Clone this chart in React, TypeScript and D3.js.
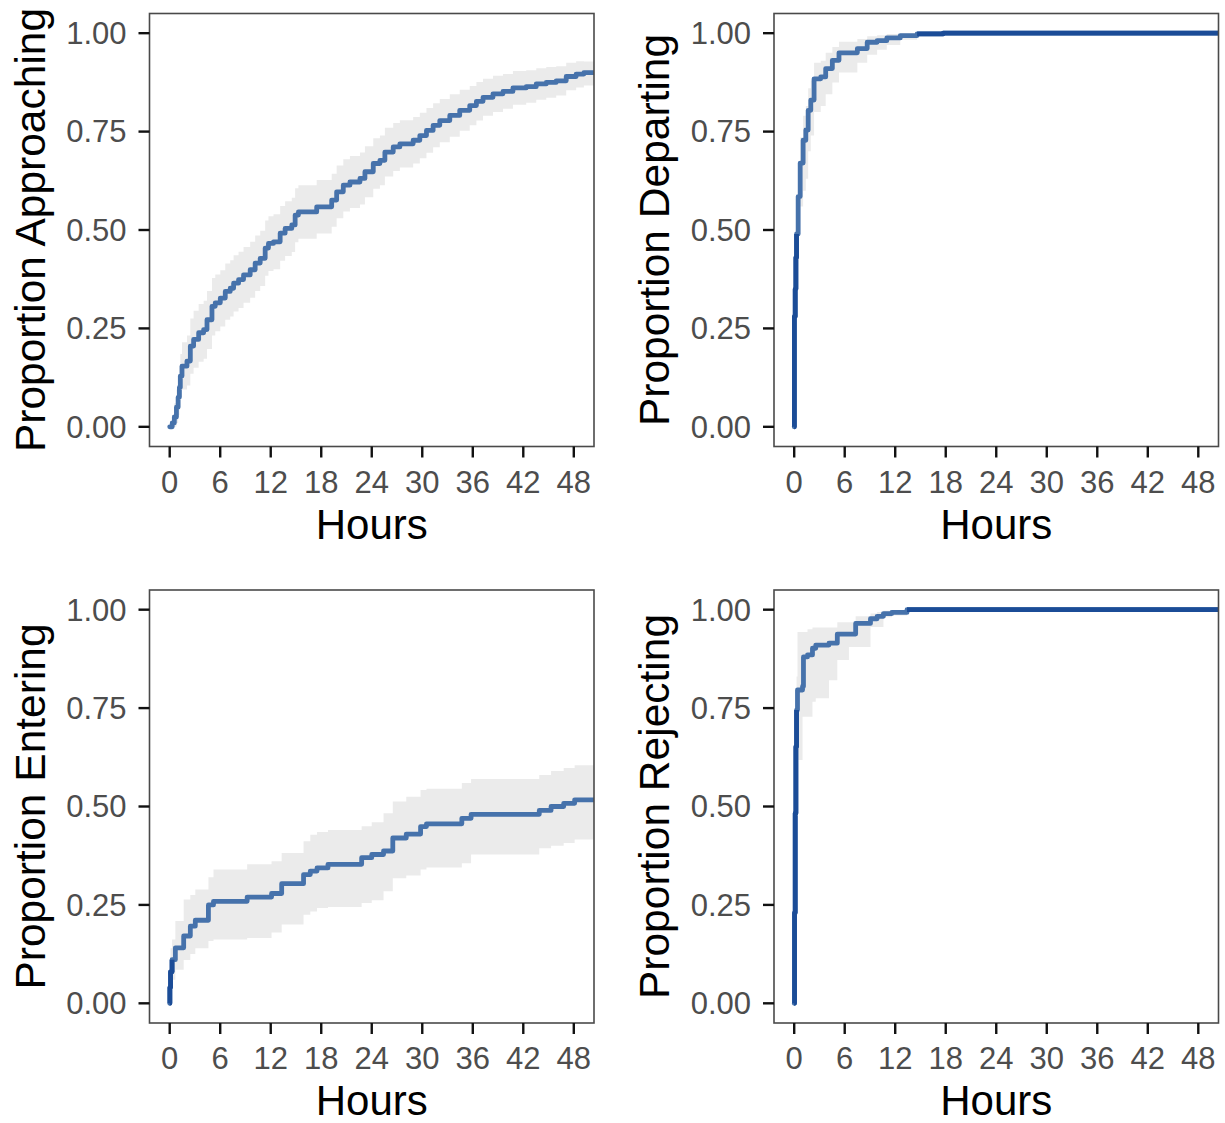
import React from "react";
import * as d3 from "d3";

// ---------- data ----------
const xTicks = [0, 6, 12, 18, 24, 30, 36, 42, 48];
const yTicks = [0, 0.25, 0.5, 0.75, 1.0];
const yTickLabels = ["0.00", "0.25", "0.50", "0.75", "1.00"];

const approachTime = [0, 0.3, 0.55, 0.8, 1.0, 1.15, 1.26, 1.46, 2.05, 2.45, 2.84, 3.44, 4.03, 4.43, 5.02, 5.41, 6.01, 6.6, 7.19, 7.59, 8.18, 8.77, 9.56, 10.15, 10.75, 11.34, 11.73, 12.33, 13.12, 13.71, 14.5, 14.9, 15.29, 17.46, 19.24, 19.83, 20.62, 21.41, 22.6, 23.19, 24.18, 24.97, 25.56, 26.55, 27.34, 28.92, 29.71, 30.5, 31.29, 32.08, 33.27, 34.45, 35.64, 36.43, 37.22, 38.4, 39.59, 40.77, 42.35, 43.54, 44.73, 45.91, 47.1, 48.28, 49.2, 50.4];
const approachEst = [0, 0.01, 0.025, 0.05, 0.075, 0.1, 0.129, 0.154, 0.167, 0.205, 0.222, 0.239, 0.247, 0.272, 0.306, 0.315, 0.327, 0.344, 0.352, 0.365, 0.374, 0.386, 0.399, 0.416, 0.428, 0.454, 0.466, 0.47, 0.492, 0.504, 0.513, 0.538, 0.546, 0.559, 0.576, 0.597, 0.614, 0.622, 0.631, 0.648, 0.669, 0.677, 0.698, 0.711, 0.719, 0.728, 0.74, 0.753, 0.766, 0.778, 0.791, 0.804, 0.816, 0.827, 0.837, 0.846, 0.852, 0.861, 0.864, 0.871, 0.875, 0.879, 0.89, 0.896, 0.9, 0.9];
const approachLower = [0, 0, 0, 0.01, 0.03, 0.05, 0.075, 0.095, 0.105, 0.135, 0.15, 0.165, 0.173, 0.198, 0.232, 0.243, 0.255, 0.272, 0.28, 0.293, 0.302, 0.315, 0.328, 0.345, 0.358, 0.384, 0.396, 0.4, 0.422, 0.434, 0.444, 0.469, 0.478, 0.491, 0.508, 0.53, 0.547, 0.556, 0.565, 0.583, 0.605, 0.614, 0.636, 0.65, 0.659, 0.669, 0.682, 0.696, 0.71, 0.723, 0.737, 0.752, 0.766, 0.778, 0.79, 0.8, 0.808, 0.818, 0.823, 0.831, 0.836, 0.842, 0.855, 0.862, 0.867, 0.867];
const approachUpper = [0, 0.03, 0.06, 0.095, 0.125, 0.155, 0.185, 0.215, 0.232, 0.275, 0.295, 0.312, 0.32, 0.345, 0.378, 0.387, 0.398, 0.415, 0.423, 0.436, 0.445, 0.457, 0.47, 0.486, 0.498, 0.524, 0.535, 0.54, 0.561, 0.573, 0.582, 0.606, 0.614, 0.627, 0.643, 0.664, 0.68, 0.688, 0.697, 0.713, 0.733, 0.74, 0.76, 0.772, 0.779, 0.787, 0.798, 0.81, 0.822, 0.833, 0.845, 0.856, 0.866, 0.876, 0.884, 0.892, 0.896, 0.904, 0.906, 0.911, 0.914, 0.916, 0.925, 0.929, 0.928, 0.928];

const departTime = [0, 0.02, 0.12, 0.2, 0.28, 0.47, 0.71, 1.06, 1.38, 1.66, 1.97, 2.36, 3.15, 3.74, 4.53, 5.32, 7.5, 8.67, 9.85, 11.0, 12.6, 14.6, 17.7, 50.4];
const departEst = [0, 0.28, 0.35, 0.43, 0.49, 0.585, 0.67, 0.728, 0.754, 0.804, 0.83, 0.884, 0.889, 0.91, 0.931, 0.95, 0.961, 0.977, 0.981, 0.988, 0.994, 0.998, 1.0, 1.0];
const departLower = [0, 0.2, 0.27, 0.35, 0.41, 0.5, 0.56, 0.6, 0.63, 0.7, 0.74, 0.8, 0.815, 0.845, 0.875, 0.9, 0.925, 0.945, 0.958, 0.97, 0.983, 0.992, 1.0, 1.0];
const departUpper = [0, 0.35, 0.42, 0.5, 0.56, 0.65, 0.735, 0.79, 0.815, 0.86, 0.88, 0.925, 0.93, 0.95, 0.965, 0.978, 0.985, 0.992, 0.995, 0.998, 1.0, 1.0, 1.0, 1.0];

const enterTime = [0, 0.02, 0.1, 0.28, 0.67, 1.66, 2.45, 3.04, 4.6, 5.2, 9.2, 12.1, 13.3, 15.9, 16.7, 17.5, 18.8, 22.8, 24.0, 25.4, 26.5, 28.1, 29.8, 30.5, 34.7, 35.8, 43.9, 45.3, 46.8, 48.1, 50.4];
const enterEst = [0, 0.04, 0.08, 0.111, 0.141, 0.171, 0.196, 0.211, 0.25, 0.259, 0.27, 0.279, 0.304, 0.327, 0.336, 0.344, 0.353, 0.37, 0.378, 0.387, 0.42, 0.43, 0.449, 0.456, 0.47, 0.48, 0.49, 0.5, 0.508, 0.517, 0.517];
const enterLower = [0, 0.01, 0.04, 0.06, 0.085, 0.11, 0.125, 0.14, 0.158, 0.162, 0.166, 0.18, 0.2, 0.225, 0.233, 0.242, 0.245, 0.255, 0.262, 0.285, 0.318, 0.325, 0.34, 0.345, 0.356, 0.378, 0.394, 0.4, 0.407, 0.416, 0.416];
const enterUpper = [0, 0.09, 0.14, 0.162, 0.209, 0.264, 0.275, 0.289, 0.32, 0.34, 0.353, 0.361, 0.382, 0.412, 0.428, 0.435, 0.44, 0.45, 0.46, 0.483, 0.513, 0.525, 0.542, 0.545, 0.56, 0.57, 0.58, 0.59, 0.598, 0.605, 0.605];

const rejectTime = [0, 0.04, 0.12, 0.2, 0.28, 0.39, 0.99, 1.1, 1.58, 2.17, 2.56, 4.13, 5.12, 6.5, 7.3, 9.06, 9.85, 10.6, 11.6, 13.4, 50.4];
const rejectEst = [0, 0.23, 0.483, 0.652, 0.745, 0.796, 0.805, 0.88, 0.885, 0.902, 0.91, 0.915, 0.938, 0.938, 0.965, 0.977, 0.983, 0.99, 0.993, 1.0, 1.0];
const rejectLower = [0, 0.15, 0.38, 0.55, 0.618, 0.618, 0.728, 0.728, 0.728, 0.766, 0.775, 0.821, 0.872, 0.905, 0.905, 0.956, 0.956, 0.981, 0.985, 1.0, 1.0];
const rejectUpper = [0, 0.33, 0.58, 0.74, 0.83, 0.943, 0.943, 0.943, 0.95, 0.955, 0.955, 0.955, 0.968, 0.968, 0.983, 0.99, 0.994, 0.997, 0.998, 1.0, 1.0];

const panelTitles = ["Proportion Approaching", "Proportion Departing", "Proportion Entering", "Proportion Rejecting"];
const xTitle = "Hours";

// ---------- layout ----------
const W = 1225;
const H = 1123;
const colLeft = [149.5, 774];
const rowTop = [13.5, 590];
const plotW = 444.5;
const plotH = 433;

const LINE = "#4672ab";
const DARK = "#1b4c97";
const RIBBON = "#ebebeb";
const FONT = "'Liberation Sans', Arial, Helvetica, sans-serif";

type Pt = { t: number; e: number; lo: number; hi: number };

function build(t: number[], e: number[], lo: number[], hi: number[]): Pt[] {
  return t.map((v, i) => ({ t: v, e: e[i], lo: lo[i], hi: hi[i] }));
}

const series: Pt[][] = [
  build(approachTime, approachEst, approachLower, approachUpper),
  build(departTime, departEst, departLower, departUpper),
  build(enterTime, enterEst, enterLower, enterUpper),
  build(rejectTime, rejectEst, rejectLower, rejectUpper),
];

function Panel({ idx }: { idx: number }) {
  const left = colLeft[idx % 2];
  const top = rowTop[Math.floor(idx / 2)];
  const data = series[idx];
  const x = d3.scaleLinear().domain([-2.4, 50.4]).range([0, plotW]);
  const y = d3.scaleLinear().domain([-0.05, 1.05]).range([plotH, 0]);

  const area = d3
    .area<Pt>()
    .x((d) => x(d.t))
    .y0((d) => y(d.lo))
    .y1((d) => y(d.hi))
    .curve(d3.curveStepAfter);
  const line = d3
    .line<Pt>()
    .x((d) => x(d.t))
    .y((d) => y(d.e))
    .curve(d3.curveStepAfter);
  const darkLine = d3
    .line<Pt>()
    .defined((d) => d.t < 0.3 || d.hi - d.lo < 0.012)
    .x((d) => x(d.t))
    .y((d) => y(d.e))
    .curve(d3.curveStepAfter);

  const clipId = `clip-${idx}`;
  const tickLen = 11;
  const titleX = -105;

  return (
    <g transform={`translate(${left},${top})`}>
      <defs>
        <clipPath id={clipId}>
          <rect x={0} y={0} width={plotW} height={plotH} />
        </clipPath>
      </defs>
      <g clipPath={`url(#${clipId})`}>
        <path d={area(data) || ""} fill={RIBBON} stroke="none" />
        <path d={line(data) || ""} fill="none" stroke={LINE} strokeWidth={4.8} strokeLinejoin="round" strokeLinecap="round" />
        <path d={darkLine(data) || ""} fill="none" stroke={DARK} strokeWidth={4.8} strokeLinejoin="round" strokeLinecap="butt" />
      </g>
      <rect x={0} y={0} width={plotW} height={plotH} fill="none" stroke="#4a4a4a" strokeWidth={1.6} />
      {yTicks.map((v, i) => (
        <g key={`y${i}`}>
          <line x1={-tickLen} x2={0} y1={y(v)} y2={y(v)} stroke="#111" strokeWidth={2.4} />
          <text x={-tickLen - 12} y={y(v)} dy="0.35em" textAnchor="end" fontSize={31} fill="#4d4d4d" fontFamily={FONT}>
            {yTickLabels[i]}
          </text>
        </g>
      ))}
      {xTicks.map((v) => (
        <g key={`x${v}`}>
          <line x1={x(v)} x2={x(v)} y1={plotH} y2={plotH + tickLen} stroke="#111" strokeWidth={2.4} />
          <text x={x(v)} y={plotH + 46} textAnchor="middle" fontSize={31} fill="#4d4d4d" fontFamily={FONT}>
            {v}
          </text>
        </g>
      ))}
      <text x={plotW / 2} y={plotH + 92} textAnchor="middle" fontSize={42} fill="#000" fontFamily={FONT}>
        {xTitle}
      </text>
      <text
        transform={`translate(${titleX},${plotH / 2}) rotate(-90)`}
        textAnchor="middle"
        fontSize={42.5}
        fill="#000"
        fontFamily={FONT}
      >
        {panelTitles[idx]}
      </text>
    </g>
  );
}

export default function App() {
  return (
    <svg
      width={W}
      height={H}
      viewBox={`0 0 ${W} ${H}`}
      style={{ position: "absolute", left: 0, top: 0, background: "#fff" }}
    >
      <rect x={0} y={0} width={W} height={H} fill="#fff" />
      {[0, 1, 2, 3].map((i) => (
        <Panel key={i} idx={i} />
      ))}
    </svg>
  );
}
